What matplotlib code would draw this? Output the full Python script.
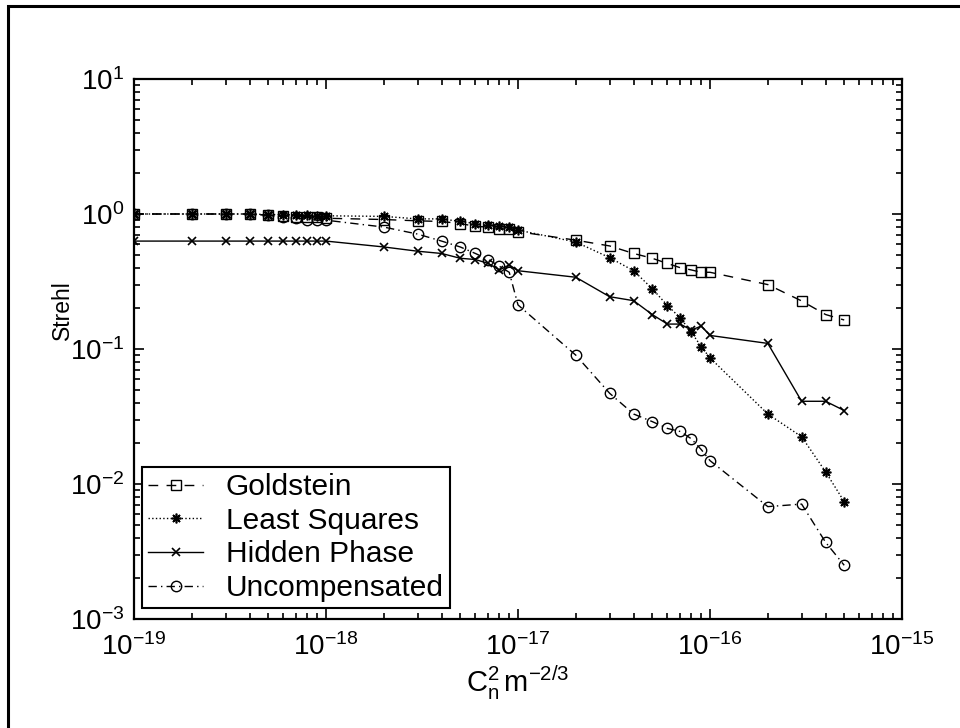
import matplotlib
matplotlib.use("Agg")
import matplotlib.pyplot as plt
from matplotlib.patches import Rectangle

# turbulence strength C_n^2 (m^-2/3)
cn2 = [1e-19, 2e-19, 3e-19, 4e-19, 5e-19, 6e-19, 7e-19, 8e-19, 9e-19,
       1e-18, 2e-18, 3e-18, 4e-18, 5e-18, 6e-18, 7e-18, 8e-18, 9e-18,
       1e-17, 2e-17, 3e-17, 4e-17, 5e-17, 6e-17, 7e-17, 8e-17, 9e-17,
       1e-16, 2e-16, 3e-16, 4e-16, 5e-16]

goldstein = [1.0, 1.0, 1.0, 1.0, 0.98, 0.97, 0.955, 0.955, 0.945,
             0.93, 0.91, 0.89, 0.88, 0.85, 0.81, 0.80, 0.78, 0.77,
             0.74, 0.64, 0.58, 0.51, 0.47, 0.43, 0.40, 0.385, 0.37,
             0.37, 0.30, 0.227, 0.18, 0.164]

least_squares = [1.0, 1.0, 1.0, 1.0, 0.99, 0.99, 0.98, 0.98, 0.97,
                 0.97, 0.96, 0.92, 0.92, 0.88, 0.85, 0.83, 0.82, 0.80,
                 0.76, 0.62, 0.475, 0.38, 0.28, 0.21, 0.17, 0.133, 0.104,
                 0.086, 0.033, 0.0224, 0.0123, 0.0074]

hidden_phase = [0.63, 0.63, 0.63, 0.63, 0.63, 0.63, 0.63, 0.63, 0.63,
                0.63, 0.57, 0.53, 0.51, 0.47, 0.46, 0.43, 0.385, 0.42,
                0.38, 0.34, 0.244, 0.228, 0.18, 0.153, 0.153, 0.138, 0.148,
                0.126, 0.11, 0.041, 0.041, 0.035]

uncompensated = [1.0, 1.0, 1.0, 1.0, 0.98, 0.955, 0.93, 0.91, 0.90,
                 0.90, 0.80, 0.71, 0.63, 0.57, 0.51, 0.46, 0.41, 0.37,
                 0.212, 0.090, 0.047, 0.033, 0.029, 0.0258, 0.0245, 0.0216, 0.018,
                 0.0149, 0.0068, 0.0071, 0.0037, 0.0025]

x_ticks = [1e-19, 1e-18, 1e-17, 1e-16, 1e-15]
y_ticks = [1e-3, 1e-2, 1e-1, 1e0, 1e1]

plt.rcParams["font.family"] = ["Liberation Sans", "DejaVu Sans"]
plt.rcParams["mathtext.fontset"] = "custom"
plt.rcParams["mathtext.rm"] = "Liberation Sans"
plt.rcParams["mathtext.it"] = "Liberation Sans"
plt.rcParams["mathtext.default"] = "regular"

fig = plt.figure(figsize=(9.6, 7.28), dpi=100)
ax = fig.add_axes([0.1396, 0.1497, 0.8, 0.7418])

ax.plot(cn2, goldstein, color="black", lw=1.0, dashes=(7, 6),
        marker="s", ms=6.5, mfc="none", mew=1.0, label="Goldstein")
ax.plot(cn2, least_squares, color="black", lw=1.0, linestyle=":",
        marker=(8, 2, 0), ms=7, mew=1.2, label="Least Squares")
ax.plot(cn2, hidden_phase, color="black", lw=1.0, linestyle="-",
        marker="x", ms=5.5, mew=1.2, label="Hidden Phase")
ax.plot(cn2, uncompensated, color="black", lw=1.0, dashes=(6, 3, 1, 3),
        marker="o", ms=7.5, mfc="none", mew=1.0, label="Uncompensated")

ax.set_xscale("log")
ax.set_yscale("log")
ax.set_xticks(x_ticks)
ax.set_yticks(y_ticks)
ax.set_xlim(1e-19, 1e-15)
ax.set_ylim(1e-3, 1e1)

for s in ax.spines.values():
    s.set_linewidth(1.6)

ax.tick_params(which="both", direction="in", top=True, right=True,
               labelsize=20, width=1.2)
ax.tick_params(which="major", length=7)
ax.tick_params(axis="x", which="major", pad=10)
ax.tick_params(axis="y", which="major", pad=7)
ax.tick_params(which="minor", length=4)

ax.set_ylabel("Strehl", fontsize=16.5)
ax.yaxis.set_label_coords(-0.078, 0.572)
ax.set_xlabel(r"$C_n^2\,m^{-2/3}$", fontsize=21, labelpad=2)

leg = ax.legend(loc="lower left", bbox_to_anchor=(0.0104, 0.0204),
                borderaxespad=0, fontsize=21.5, numpoints=1,
                fancybox=False, framealpha=1, edgecolor="black",
                handlelength=1.85, handletextpad=0.75, labelspacing=0.19,
                borderpad=0.2)
leg.get_frame().set_linewidth(1.5)

# outer frame of the figure
fig.add_artist(Rectangle((8 / 960, -0.1), 1.2, 1.1 - 6 / 728,
                         transform=fig.transFigure, fill=False,
                         edgecolor="black", linewidth=2.2))

fig.savefig("out.png", dpi=100)
